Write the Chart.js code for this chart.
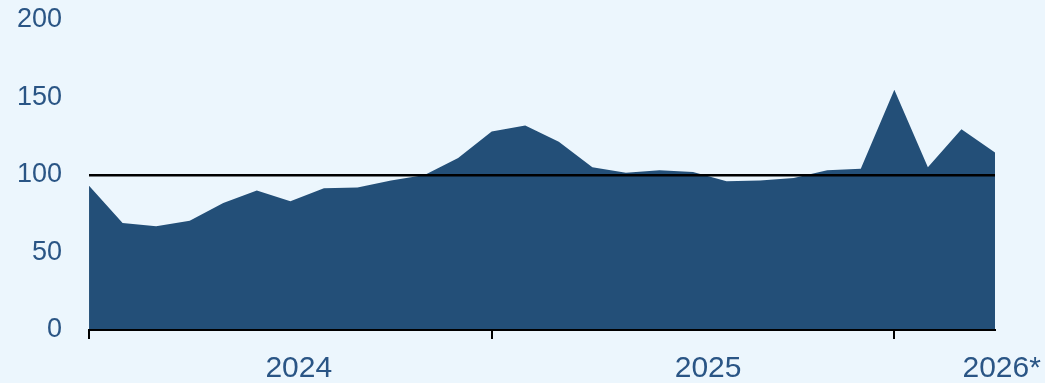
<!DOCTYPE html>
<html>
<head>
<meta charset="utf-8">
<script src="https://cdn.jsdelivr.net/npm/chart.js@4/dist/chart.umd.min.js"></script>
<style>
  html, body { margin: 0; padding: 0; background: #ECF6FD; }
  #wrap { width: 1045px; height: 383px; position: relative; }
</style>
</head>
<body>
<div id="wrap"><canvas id="chart" width="1045" height="383"></canvas></div>
<script>
// Monthly index, January 2024 to April 2026 (2026 provisional)
const months = [
  '2024-01','2024-02','2024-03','2024-04','2024-05','2024-06',
  '2024-07','2024-08','2024-09','2024-10','2024-11','2024-12',
  '2025-01','2025-02','2025-03','2025-04','2025-05','2025-06',
  '2025-07','2025-08','2025-09','2025-10','2025-11','2025-12',
  '2026-01','2026-02','2026-03','2026-04'
];
const indexValues = [
  93, 69, 67, 70.5, 82, 90, 83, 91.5, 92, 96.5, 100, 111,
  128, 132, 121.5, 105, 101.5, 103, 102, 96, 96.5, 98, 103, 104,
  155, 105, 129.5, 114.5
];
const yearLabels = ['2024', '2025', '2026*'];
const yTicks = [0, 50, 100, 150, 200];
const referenceLevel = 100;

const textColor = '#2A5585';
const fillColor = '#234F78';
const clear = 'rgba(0,0,0,0)';
const fontFamily = '"Liberation Sans", Arial, Helvetica, sans-serif';

// where each year caption sits along the month axis
const yearCaptionAt = [6.25, 18.45, 27.2];

new Chart(document.getElementById('chart'), {
  type: 'line',
  data: {
    labels: months,
    datasets: [{
      data: indexValues,
      fill: 'origin',
      backgroundColor: fillColor,
      borderWidth: 0,
      pointRadius: 0,
      tension: 0
    }]
  },
  options: {
    responsive: false,
    animation: false,
    layout: { padding: { top: 20, right: 50, left: 17, bottom: -1 } },
    plugins: { legend: { display: false }, tooltip: { enabled: false } },
    scales: {
      x: {
        type: 'category',
        offset: false,
        border: { display: true, color: '#000', width: 2, z: 1 },
        grid: {
          z: 1,
          drawOnChartArea: false,
          drawTicks: true,
          tickLength: 9,
          lineWidth: 2,
          color: (ctx) => (ctx.index % 12 === 0 ? '#000' : clear)
        },
        ticks: { display: false, autoSkip: false }
      },
      years: {
        type: 'linear',
        position: 'bottom',
        min: 0,
        max: months.length - 1,
        grid: { display: true, drawOnChartArea: false, drawTicks: true, tickLength: 15, color: clear },
        border: { display: false },
        afterBuildTicks: (axis) => {
          axis.ticks = yearCaptionAt.map((v) => ({ value: v }));
        },
        ticks: {
          autoSkip: false,
          maxRotation: 0,
          padding: 0,
          color: textColor,
          font: { family: fontFamily, size: 30, lineHeight: 1 },
          callback: (value, i) => yearLabels[i]
        }
      },
      y: {
        min: 0,
        max: 200,
        afterBuildTicks: (axis) => {
          axis.ticks = yTicks.map((v) => ({ value: v }));
        },
        border: { display: false },
        grid: {
          z: 1,
          drawTicks: true,
          tickLength: 27,
          tickColor: clear,
          lineWidth: 2.5,
          color: (ctx) => (ctx.tick && ctx.tick.value === referenceLevel ? '#000' : clear)
        },
        ticks: {
          padding: 0,
          color: textColor,
          font: { family: fontFamily, size: 27 }
        }
      }
    }
  }
});
</script>
</body>
</html>
